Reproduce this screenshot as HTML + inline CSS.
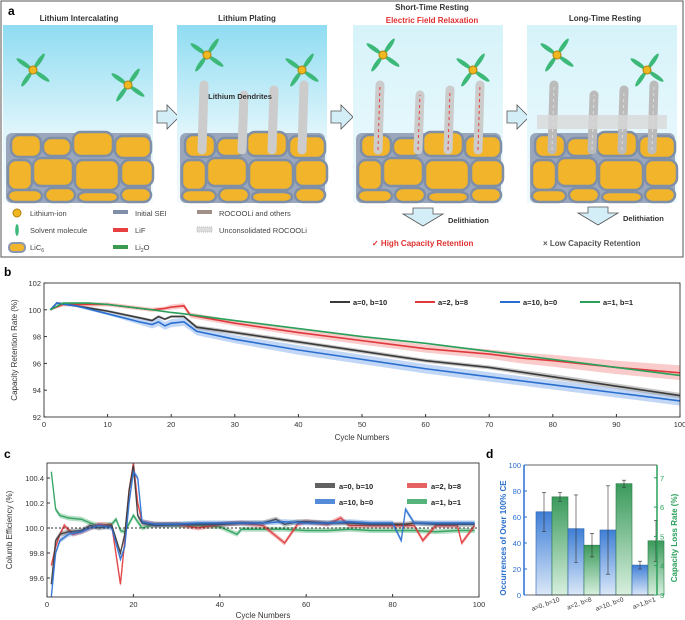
<!DOCTYPE html>
<html><head><meta charset="utf-8"><style>
body{margin:0;background:#fff;}
svg{display:block;font-family:"Liberation Sans",Arial,sans-serif;}
</style></head><body>
<svg id="fig" width="685" height="620" viewBox="0 0 685 620" xmlns="http://www.w3.org/2000/svg">
<defs>
<linearGradient id="sky" x1="0" y1="0" x2="0" y2="1"><stop offset="0" stop-color="#8fdcf2"/><stop offset="0.6" stop-color="#dff5fb"/><stop offset="1" stop-color="#f4fbfd"/></linearGradient>
<linearGradient id="sky2" x1="0" y1="0" x2="0" y2="1"><stop offset="0" stop-color="#d6f3fa"/><stop offset="1" stop-color="#eefafd"/></linearGradient>
<linearGradient id="barB" x1="0" y1="0" x2="0" y2="1"><stop offset="0" stop-color="#3f7fd6"/><stop offset="1" stop-color="#dbe8f8"/></linearGradient>
<linearGradient id="barG" x1="0" y1="0" x2="0" y2="1"><stop offset="0" stop-color="#3a9a5b"/><stop offset="1" stop-color="#d8efdf"/></linearGradient>
</defs>
<rect x="1" y="1" width="682" height="256" fill="none" stroke="#555" stroke-width="1"/>
<text x="8" y="15" font-size="12" font-weight="bold">a</text>
<g id="panelA"></g>
<text x="79" y="21" font-size="8" font-weight="bold" text-anchor="middle" fill="#333">Lithium Intercalating</text>
<text x="247" y="21" font-size="8" font-weight="bold" text-anchor="middle" fill="#333">Lithium Plating</text>
<text x="432" y="10" font-size="8" font-weight="bold" text-anchor="middle" fill="#333">Short-Time Resting</text>
<text x="432" y="23" font-size="8" font-weight="bold" text-anchor="middle" fill="#e03030">Electric Field Relaxation</text>
<text x="605" y="21" font-size="8" font-weight="bold" text-anchor="middle" fill="#333">Long-Time Resting</text>
<text x="240" y="99" font-size="7.5" font-weight="bold" text-anchor="middle" fill="#333">Lithium Dendrites</text>
<g font-size="7.5" fill="#444">
<circle cx="17" cy="213" r="4" fill="#f0b820" stroke="#b08010"/><text x="30" y="216">Lithium-ion</text>
<ellipse cx="17" cy="230" rx="1.8" ry="6" fill="#3cb878"/><text x="30" y="233">Solvent molecule</text>
<rect x="9" y="243" width="16" height="9" rx="4" fill="#f2b42a" stroke="#8a96b0" stroke-width="2"/><text x="30" y="250">LiC<tspan font-size="5" dy="2">6</tspan></text>
<rect x="113" y="210" width="15" height="4" fill="#7f8fa8"/><text x="135" y="216">Initial SEI</text>
<rect x="113" y="228" width="15" height="4" fill="#e84040"/><text x="135" y="233">LiF</text>
<rect x="113" y="245" width="15" height="4" fill="#3a9a50"/><text x="135" y="250">Li<tspan font-size="5" dy="2">2</tspan><tspan dy="-2">O</tspan></text>
<rect x="197" y="210" width="15" height="4" fill="#a09088"/><text x="219" y="216">ROCOOLi and others</text>
<rect x="197" y="227" width="15" height="5" fill="#ddd" stroke="#bbb" stroke-dasharray="1,1"/><text x="219" y="233">Unconsolidated ROCOOLi</text>
</g>
<g>
<path d="M413 208 h20 v6 h10 l-20 12 l-20 -12 h10z" fill="#d4eef8" stroke="#555" stroke-width="0.8"/>
<text x="448" y="223" font-size="7.5" font-weight="bold" fill="#333">Delithiation</text>
<path d="M588 207 h20 v6 h10 l-20 12 l-20 -12 h10z" fill="#d4eef8" stroke="#555" stroke-width="0.8"/>
<text x="623" y="221" font-size="7.5" font-weight="bold" fill="#333">Delithiation</text>
<text x="372" y="246" font-size="8" font-weight="bold" fill="#e03030">✓ High  Capacity Retention</text>
<text x="543" y="246" font-size="8" font-weight="bold" fill="#555">× Low  Capacity Retention</text>
</g>
<text x="4" y="276" font-size="12" font-weight="bold">b</text>
<text x="4" y="458" font-size="12" font-weight="bold">c</text>
<text x="486" y="458" font-size="12" font-weight="bold">d</text>
<g id="chartB"></g>
<g id="chartC"></g>
<g id="chartD"></g>
</svg>
<script>
const NS="http://www.w3.org/2000/svg";
function mk(parent,tag,attrs,txt){const e=document.createElementNS(NS,tag);for(const k in attrs)e.setAttribute(k,attrs[k]);if(txt!==undefined)e.textContent=txt;parent.appendChild(e);return e;}

// ---------- Panel a illustration ----------
const panelsX=[3,177,353,527];
const grains=[[8,135,30,22],[40,138,28,18],[70,132,40,24],[112,136,36,22],[5,160,24,30],[30,158,40,28],[72,160,44,30],[118,160,32,26],[5,190,34,12],[42,188,30,14],[75,192,40,10],[118,188,30,14]];
const A=document.getElementById('panelA');
panelsX.forEach((px,i)=>{
  const g=mk(A,'g',{});
  
  
  mk(g,'rect',{x:px,y:25,width:150,height:178,fill:i<2?'url(#sky)':'url(#sky2)'});
  mk(g,'rect',{x:px+3,y:133,width:145,height:70,rx:6,fill:'#9aa6bc'});
  grains.forEach(q=>{mk(g,'rect',{x:px+q[0],y:q[1],width:q[2],height:q[3],rx:8,fill:'#f2b42a',stroke:'#7f8fa8','stroke-width':2.5});});
  if(i>=1){
    [[25,105,85],[65,118,95],[95,112,90],[125,100,85]].forEach(d=>{
      mk(g,'path',{d:`M${px+d[0]} 150 L${px+d[0]+2} ${d[2]} `,stroke:i===3?'#bbb':'#ccc','stroke-width':9,'stroke-linecap':'round',fill:'none'});
      mk(g,'path',{d:`M${px+d[0]} 150 L${px+d[0]+2} ${d[2]} `,stroke:i===2?'#e84040':'#ddd','stroke-width':i>=2?1:0,'stroke-dasharray':'3,3',fill:'none'});
    });
    if(i===3) mk(g,'rect',{x:px+10,y:115,width:130,height:14,fill:'#d8d8d8',opacity:0.8});
  }
  [[30,45],[125,60]].forEach((s,j)=>{
    const cx=px+s[0]+(i>=2?j*-5:0),cy=25+s[1]-(i>=2?15:0)-(i===1?15:0);
    [0,90,180,270].forEach(a=>{mk(g,'ellipse',{cx:cx+11*Math.cos((a+35)*Math.PI/180),cy:cy+11*Math.sin((a+35)*Math.PI/180),rx:9,ry:2.2,fill:'#3cb878',transform:`rotate(${a+35} ${cx+11*Math.cos((a+35)*Math.PI/180)} ${cy+11*Math.sin((a+35)*Math.PI/180)})`});});
    mk(g,'circle',{cx:cx,cy:cy,r:4,fill:'#f0b820',stroke:'#b08010'});
  });
  if(i<3){const ax=px+152;const ar=mk(A,'path',{d:`M${ax+2} 111 h10 v-6 l12 12 l-12 12 v-6 h-10z`,fill:'#d4eef8',stroke:'#555','stroke-width':0.8});
    
    }
});

// ---------- Chart b data ----------
const bSeriesNames=["a=0, b=10","a=2, b=8","a=10, b=0","a=1, b=1"];
const bColors=["#3a3a3a","#e0393b","#2a6fd0","#2aa05a"];
const bBand=["#9a9a9a","#f4a0a0","#8fb6ee","#9ad4ae"];
const bCycBlack=[1,2,5,10,15,17,18,19,20,22,24,30,40,50,60,70,80,90,100];
const bValBlack=[100,100.5,100.3,99.9,99.4,99.2,99.5,99.3,99.5,99.5,98.7,98.3,97.6,96.9,96.2,95.7,95.0,94.3,93.6];
const bErrBlack=[0,0.1,0.1,0.1,0.1,0.1,0.1,0.1,0.1,0.1,0.15,0.15,0.15,0.15,0.15,0.15,0.2,0.2,0.2];
const bCycRed=[1,3,10,17,19,20,22,23,30,40,50,60,70,75,80,90,100];
const bValRed=[100,100.4,100.4,100,100.1,100.2,100.3,99.6,99.0,98.3,97.7,97.1,96.7,96.4,96.2,95.7,95.3];
const bErrRed=[0,0.15,0.15,0.15,0.15,0.2,0.2,0.2,0.2,0.25,0.3,0.3,0.35,0.4,0.45,0.5,0.55];
const bCycBlue=[1,2,5,10,15,17,18,19,20,22,24,30,40,50,60,70,80,90,100];
const bValBlue=[100,100.5,100.3,99.7,99.1,98.9,99.1,98.8,99.0,99.1,98.4,97.8,97.0,96.3,95.6,95.0,94.4,93.8,93.2];
const bErrBlue=[0,0.1,0.1,0.1,0.2,0.3,0.3,0.3,0.3,0.3,0.3,0.3,0.35,0.35,0.35,0.35,0.35,0.35,0.35];
const bCycGreen=[1,3,7,10,17,20,22,30,40,50,60,70,80,90,100];
const bValGreen=[100,100.5,100.5,100.4,100,99.8,99.7,99.2,98.6,98.0,97.5,96.9,96.3,95.7,95.1];
const bErrGreen=[0,0.05,0.05,0.05,0.05,0.05,0.05,0.05,0.05,0.05,0.05,0.05,0.05,0.05,0.05];
const bXTicks=[0,10,20,30,40,50,60,70,80,90,100];
const bYTicks=[92,94,96,98,100,102];

const bL=44,bR=680,bT=283,bB=417;
const bx=c=>bL+c*(bR-bL)/100, by=v=>bT+(102-v)*(bB-bT)/10;
(function(){
  const G=document.getElementById('chartB');
  const S=[[bCycBlack,bValBlack,bErrBlack],[bCycRed,bValRed,bErrRed],[bCycBlue,bValBlue,bErrBlue],[bCycGreen,bValGreen,bErrGreen]];
  [1,2,0,3].forEach(k=>{const [c,v,e]=S[k];
    let up=c.map((x,i)=>bx(x)+','+by(v[i]+e[i])).join(' L');let dn=c.map((x,i)=>bx(x)+','+by(v[i]-e[i])).reverse().join(' L');
    const p=mk(G,'path',{d:'M'+up+' L'+dn+'Z',fill:bBand[k],opacity:0.55});
    
    
  });
  [1,0,2,3].forEach(k=>{const [c,v]=S[k];
    const p=mk(G,'path',{d:'M'+c.map((x,i)=>bx(x)+','+by(v[i])).join(' L'),fill:'none',stroke:bColors[k],'stroke-width':1.6});
    
    
  });
  const fr=mk(G,'rect',{x:bL,y:bT,width:bR-bL,height:bB-bT,fill:'none',stroke:'#333','stroke-width':0.9});
  
  
  bXTicks.forEach(t=>{mk(G,'line',{x1:bx(t),x2:bx(t),y1:bB,y2:bB-3,stroke:'#333'});
    const l=mk(G,'text',{x:bx(t),y:bB+10,'font-size':7.5,'text-anchor':'middle',fill:'#333'},t);
    
    });
  bYTicks.forEach(t=>{mk(G,'line',{x1:bL,x2:bL+3,y1:by(t),y2:by(t),stroke:'#333'});
    const l=mk(G,'text',{x:bL-3,y:by(t)+3,'font-size':7.5,'text-anchor':'end',fill:'#333'},t);
    
    });
  const xt=mk(G,'text',{x:(bL+bR)/2,y:bB+23,'font-size':8,'text-anchor':'middle',fill:'#333'},'Cycle Numbers');
  
  
  const yt=mk(G,'text',{x:0,y:0,'font-size':8,'text-anchor':'middle',fill:'#333',transform:`translate(17 ${(bT+bB)/2}) rotate(-90)`},'Capacity Retention Rate (%)');
  
  
  const lx=[330,415,500,580];
  bSeriesNames.forEach((n,k)=>{
    const g=mk(G,'g',{});
    
    
    mk(g,'line',{x1:lx[k],x2:lx[k]+20,y1:302,y2:302,stroke:bColors[k],'stroke-width':2});
    mk(g,'text',{x:lx[k]+23,y:305,'font-size':7.5,'font-weight':'bold',fill:'#222'},n);
  });
})();

// ---------- Chart c data ----------
const cCycBlack=[1,2,3,5,8,10,12,15,17,18,19,20,21,22,25,30,35,40,45,50,53,55,58,60,65,70,75,80,83,85,90,95,99];
const cValBlack=[99.55,99.9,99.95,99.97,99.98,100.02,100.0,100.02,99.8,99.95,100.3,100.5,100.1,100.04,100.02,100.03,100.03,100.03,100.04,100.04,100.07,100.03,100.05,100.05,100.04,100.04,100.03,100.03,100.03,100.04,100.03,100.03,100.03];
const cCycRed=[1,2,3,4,6,8,10,12,15,17,18,19,20,21,22,25,30,35,40,45,50,55,58,60,65,68,70,75,80,85,87,90,95,96,99];
const cValRed=[99.7,99.85,99.95,100.02,99.95,99.97,100.0,100.03,100.02,99.55,99.9,100.3,100.52,100.2,100.05,100.03,100.03,100.0,100.03,100.04,100.02,99.88,100.03,100.05,100.03,100.08,100.02,100.02,100.02,100.02,99.9,100.02,100.02,99.88,100.02];
const cCycBlue=[1,2,3,5,8,10,12,15,17,18,19,20,21,22,25,30,35,40,45,50,55,60,65,70,75,80,82,83,85,90,95,99];
const cValBlue=[99.45,99.8,99.9,99.95,99.97,100.0,100.02,100.0,99.75,99.85,100.2,100.45,100.4,100.05,100.03,100.03,100.04,100.04,100.04,100.04,100.05,100.04,100.04,100.05,100.04,100.04,99.9,100.15,100.04,100.04,100.04,100.04];
const cCycGreen=[1,2,3,5,8,10,12,15,16,17,18,20,22,25,30,35,40,44,45,50,55,60,65,70,75,80,85,90,95,99];
const cValGreen=[100.45,100.15,100.1,100.08,100.07,100.04,100.02,100.03,100.07,99.98,99.97,100.1,100.0,100.03,100.02,100.02,100.01,99.95,99.99,99.99,99.99,99.98,99.98,99.99,99.98,99.98,99.98,99.97,99.98,99.98];
const cXTicks=[0,20,40,60,80,100];
const cYTicks=[99.6,99.8,100.0,100.2,100.4];
const cL=47,cR=479,cT=463,cB=597;
const cx=c=>cL+c*(cR-cL)/100, cy=v=>528-(v-100)*125;
(function(){
  const G=document.getElementById('chartC');
  const clip=mk(G,'clipPath',{id:'cclip'});
  mk(clip,'rect',{x:cL,y:cT,width:cR-cL,height:cB-cT});
  const S=[[cCycBlack,cValBlack,'#3a3a3a'],[cCycRed,cValRed,'#e0393b'],[cCycBlue,cValBlue,'#2a6fd0'],[cCycGreen,cValGreen,'#2aa05a']];
  const inner=mk(G,'g',{'clip-path':'url(#cclip)'});
  [3,1,0,2].forEach(k=>{const [c,v,col]=S[k];
    const up=c.map((x,i)=>cx(x)+','+cy(v[i]+0.02)).join(' L'),dn=c.map((x,i)=>cx(x)+','+cy(v[i]-0.02)).reverse().join(' L');
    const b=mk(inner,'path',{d:'M'+up+' L'+dn+'Z',fill:col,opacity:0.35});
    
    
    const p=mk(inner,'path',{d:'M'+c.map((x,i)=>cx(x)+','+cy(v[i])).join(' L'),fill:'none',stroke:col,'stroke-width':1.4,opacity:0.9});
    
    
  });
  const ref=mk(G,'line',{x1:cL,x2:cR,y1:cy(100),y2:cy(100),stroke:'#333','stroke-dasharray':'2,2'});
  
  
  const fr=mk(G,'rect',{x:cL,y:cT,width:cR-cL,height:cB-cT,fill:'none',stroke:'#333','stroke-width':0.9});
  
  
  cXTicks.forEach(t=>{mk(G,'line',{x1:cx(t),x2:cx(t),y1:cB,y2:cB-3,stroke:'#333'});
    const l=mk(G,'text',{x:cx(t),y:cB+10,'font-size':7.5,'text-anchor':'middle',fill:'#333'},t);
    
    });
  cYTicks.forEach(t=>{mk(G,'line',{x1:cL,x2:cL+3,y1:cy(t),y2:cy(t),stroke:'#333'});
    const l=mk(G,'text',{x:cL-3,y:cy(t)+3,'font-size':7.5,'text-anchor':'end',fill:'#333'},t.toFixed(1));
    
    });
  const xt=mk(G,'text',{x:(cL+cR)/2,y:cB+21,'font-size':8,'text-anchor':'middle',fill:'#333'},'Cycle Numbers');
  
  
  const yt=mk(G,'text',{x:0,y:0,'font-size':8,'text-anchor':'middle',fill:'#333',transform:`translate(12 ${(cT+cB)/2}) rotate(-90)`},'Columb Efficiency (%)');
  
  
  const pos=[[315,487],[407,487],[315,503],[407,503]];
  bSeriesNames.forEach((n,k)=>{
    const g=mk(G,'g',{});
    
    
    mk(g,'rect',{x:pos[k][0],y:pos[k][1]-4,width:20,height:5,fill:S[k][2],opacity:0.8});
    mk(g,'text',{x:pos[k][0]+24,y:pos[k][1]+2,'font-size':7.5,'font-weight':'bold',fill:'#222'},n);
  });
})();

// ---------- Chart d data ----------
const dCategories=["a=0, b=10","a=2, b=8","a=10, b=0","a=1,b=1"];
const dOccur=[64,51,50,23];
const dOccurErr=[15,26,34,3];
const dLoss=[6.35,4.7,6.8,4.85];
const dLossErr=[0.15,0.4,0.12,0.7];
const dLeftTicks=[0,20,40,60,80,100];
const dRightTicks=[3,4,5,6,7];
const dL=524,dR=657,dT=465,dB=595;
const dyL=v=>dB-v*(dB-dT)/100, dyR=v=>dB-(v-3)*29.3;
(function(){
  const G=document.getElementById('chartD');
  const bw=16,step=32,start=536;
  dCategories.forEach((c,i)=>{
    const x0=start+i*step;
    const b=mk(G,'rect',{x:x0,y:dyL(dOccur[i]),width:bw,height:dB-dyL(dOccur[i]),fill:'url(#barB)',stroke:'#2a5fb0','stroke-width':0.6});
    
    
    const g=mk(G,'rect',{x:x0+bw,y:dyR(dLoss[i]),width:bw,height:dB-dyR(dLoss[i]),fill:'url(#barG)',stroke:'#2a7a45','stroke-width':0.6});
    
    
    const ex1=x0+bw/2,ex2=x0+bw*1.5;
    mk(G,'path',{d:`M${ex1} ${dyL(dOccur[i]+dOccurErr[i])} V${dyL(dOccur[i]-dOccurErr[i])} M${ex1-2} ${dyL(dOccur[i]+dOccurErr[i])} h4 M${ex1-2} ${dyL(dOccur[i]-dOccurErr[i])} h4`,stroke:'#333','stroke-width':0.6,fill:'none'});
    mk(G,'path',{d:`M${ex2} ${dyR(dLoss[i]+dLossErr[i])} V${dyR(dLoss[i]-dLossErr[i])} M${ex2-2} ${dyR(dLoss[i]+dLossErr[i])} h4 M${ex2-2} ${dyR(dLoss[i]-dLossErr[i])} h4`,stroke:'#333','stroke-width':0.6,fill:'none'});
    const t=mk(G,'text',{x:0,y:0,'font-size':6.5,'text-anchor':'end',fill:'#333',transform:`translate(${x0+bw+8} ${dB+6}) rotate(-20)`},c);
    
    
  });
  mk(G,'line',{x1:dL,x2:dR,y1:dT,y2:dT,stroke:'#333','stroke-width':0.8});
  mk(G,'line',{x1:dL,x2:dR,y1:dB,y2:dB,stroke:'#333','stroke-width':0.8});
  const la=mk(G,'line',{x1:dL,x2:dL,y1:dT,y2:dB,stroke:'#2a6fd0','stroke-width':1.5});
  
  
  const ra=mk(G,'line',{x1:dR,x2:dR,y1:dT,y2:dB,stroke:'#2aa05a','stroke-width':1.5});
  
  
  dLeftTicks.forEach(t=>{mk(G,'line',{x1:dL,x2:dL+3,y1:dyL(t),y2:dyL(t),stroke:'#2a6fd0'});
    const l=mk(G,'text',{x:dL-3,y:dyL(t)+3,'font-size':7.5,'text-anchor':'end',fill:'#2a6fd0'},t);
    
    });
  dRightTicks.forEach(t=>{mk(G,'line',{x1:dR,x2:dR-3,y1:dyR(t),y2:dyR(t),stroke:'#2aa05a'});
    const l=mk(G,'text',{x:dR+3,y:dyR(t)+3,'font-size':7.5,fill:'#2aa05a'},t);
    
    });
  const yl=mk(G,'text',{x:0,y:0,'font-size':8,'font-weight':'bold','text-anchor':'middle',fill:'#2a6fd0',transform:`translate(506 ${(dT+dB)/2+8}) rotate(-90)`},'Occurrences of Over 100% CE');
  
  
  const yr=mk(G,'text',{x:0,y:0,'font-size':8,'font-weight':'bold','text-anchor':'middle',fill:'#2aa05a',transform:`translate(677 ${(dT+dB)/2+8}) rotate(-90)`},'Capacity Loss Rate (%)');
  
  
})();
</script>
</body></html>
